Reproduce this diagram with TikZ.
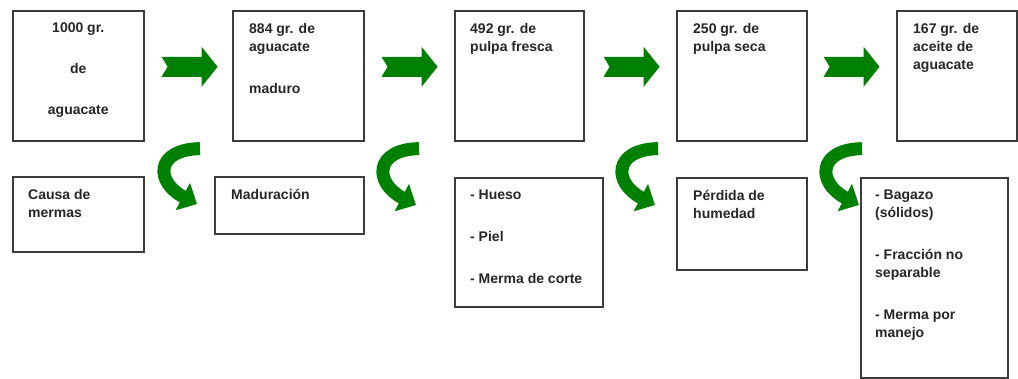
\documentclass[tikz,border=0pt]{standalone}
\usepackage{fontspec}
\setmainfont{Liberation Sans}
\usetikzlibrary{arrows.meta}
\definecolor{verde}{RGB}{0,128,0}
\definecolor{borde}{RGB}{60,60,60}

\begin{document}
\begin{tikzpicture}[x=1pt, y=-1pt,
  caja/.style={draw=borde, line width=1.6pt, anchor=north west, inner sep=0pt},
  texto/.style={anchor=north west, align=left, inner sep=0pt, text=black!85,
    font=\fontsize{14}{18}\selectfont\bfseries},
  flecha/.pic={\fill[verde] (0,-10) -- (40,-10) -- (40,-20) -- (56,0) -- (40,20) -- (40,10) -- (0,10) -- (6,0) -- cycle;},
  curva/.style={draw=verde, line width=13pt, -{Triangle[length=16pt, width=30pt]}}]

\useasboundingbox (0,0) rectangle (1018,379);

% cajas de arriba
\node[caja, minimum width=131pt, minimum height=130pt] (c1) at (12,10) {};
\node[caja, minimum width=131pt, minimum height=130pt] (c2) at (232,10) {};
\node[caja, minimum width=129pt, minimum height=130pt] (c3) at (454,10) {};
\node[caja, minimum width=130pt, minimum height=130pt] (c4) at (676,10) {};
\node[caja, minimum width=120pt, minimum height=130pt] (c5) at (896,10) {};

\node[texto, anchor=north, align=center] (t1) at ([shift={(0,13)}]c1.north) {1000 gr.\\[23pt]de\\[23pt]aguacate};
\node[texto] (t2) at ([shift={(17,13)}]c2.north west) {884 gr. de\\aguacate\\[24pt]maduro};
\node[texto] (t3) at ([shift={(16,13)}]c3.north west) {492 gr. de\\pulpa fresca};
\node[texto] (t4) at ([shift={(17,13)}]c4.north west) {250 gr. de\\pulpa seca};
\node[texto] (t5) at ([shift={(17,13)}]c5.north west) {167 gr. de\\aceite de\\aguacate};

% cajas de abajo
\node[caja, minimum width=131pt, minimum height=75pt] (b1) at (12,176) {};
\node[caja, minimum width=149pt, minimum height=57pt] (b2) at (214,176) {};
\node[caja, minimum width=148pt, minimum height=129pt] (b3) at (454,177) {};
\node[caja, minimum width=130pt, minimum height=92pt] (b4) at (676,177) {};
\node[caja, minimum width=147pt, minimum height=200pt] (b5) at (860,177) {};

\node[texto] (s1) at ([shift={(16,13)}]b1.north west) {Causa de\\mermas};
\node[texto] (s2) at ([shift={(17,13)}]b2.north west) {Maduración};
\node[texto] (s3) at ([shift={(16,13)}]b3.north west) {- Hueso\\[24pt]- Piel\\[24pt]- Merma de corte};
\node[texto] (s4) at ([shift={(17,13)}]b4.north west) {Pérdida de\\humedad};
\node[texto] (s5) at ([shift={(15,13)}]b5.north west) {- Bagazo\\(sólidos)\\[24pt]- Fracción no\\separable\\[24pt]- Merma por\\manejo};

% flechas rectas
\pic at ([shift={(17,-9)}]c1.east) {flecha};
\pic at ([shift={(17,-9)}]c2.east) {flecha};
\pic at ([shift={(19,-9)}]c3.east) {flecha};
\pic at ([shift={(16,-9)}]c4.east) {flecha};

% flechas curvas
\draw[curva] ([shift={(-32,7)}]c2.south west) .. controls +(-45,1) and +(-42,-22) .. ([shift={(-17,28)}]b2.north west);
\draw[curva] ([shift={(-35,7)}]c3.south west) .. controls +(-45,1) and +(-42,-22) .. ([shift={(-38,28)}]b3.north west);
\draw[curva] ([shift={(-18,7)}]c4.south west) .. controls +(-45,1) and +(-42,-22) .. ([shift={(-21,28)}]b4.north west);
\draw[curva] ([shift={(-34,7)}]c5.south west) .. controls +(-45,1) and +(-42,-22) .. ([shift={(-1,28)}]b5.north west);

\end{tikzpicture}
\end{document}
